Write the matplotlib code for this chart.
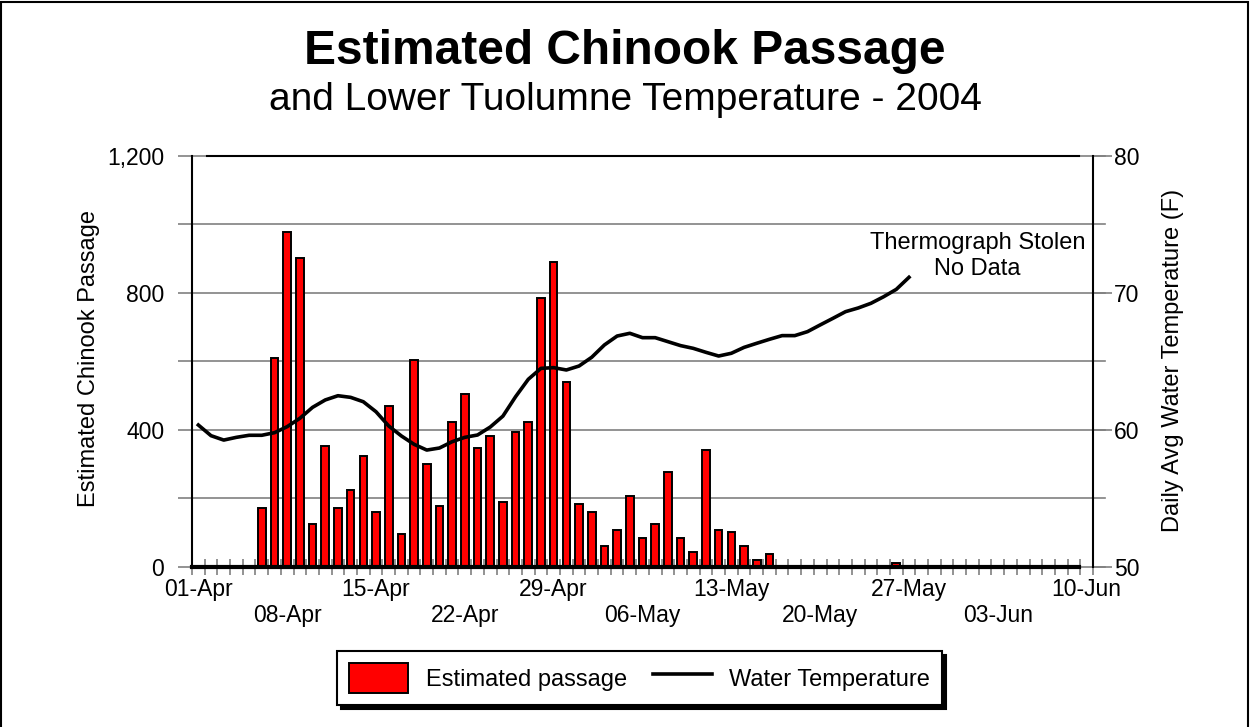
"""Passage estimee de Chinook et temperature du Tuolumne inferieur - 2004."""
import numpy as np
import matplotlib
matplotlib.use("Agg")
import matplotlib.pyplot as plt
from matplotlib.patches import Rectangle

ROUGE, GRIS, NOIR = "#ff0000", "#808080", "#000000"

plt.rcParams.update({
    "font.family": ["Liberation Sans", "DejaVu Sans"],
    "font.size": 16.5,
})

# une categorie par jour, 01-Apr .. 10-Jun (71 jours)
n_jours = 71
etiquettes = ["01-Apr", "08-Apr", "15-Apr", "22-Apr", "29-Apr", "06-May",
              "13-May", "20-May", "27-May", "03-Jun", "10-Jun"]

# passage estime (poissons/jour), 01-Apr .. 09-Jun
passage = [0, 0, 0, 0, 0,
           172, 611, 979, 903, 126, 354, 172, 225, 324, 161,
           470, 96, 605, 301, 178, 424, 506, 348, 383, 190,
           395, 424, 786, 891, 541, 184, 161, 61, 108, 207,
           85, 126, 278, 85, 44, 342, 108, 102, 61, 20,
           38, 0, 0, 0, 0, 0, 0, 0, 0, 0,
           12, 0, 0, 0, 0, 0, 0, 0, 0, 0,
           0, 0, 0, 0, 0]

# temperature moyenne journaliere (F), 01-Apr .. 27-May (thermographe vole ensuite)
temperature = [60.35, 59.57, 59.25, 59.45, 59.6, 59.6, 59.79, 60.23, 60.84, 61.64,
               62.18, 62.49, 62.37, 62.05, 61.32, 60.28, 59.55, 58.94, 58.52, 58.67,
               59.13, 59.45, 59.62, 60.2, 61.0, 62.42, 63.69, 64.49, 64.54, 64.37,
               64.66, 65.3, 66.2, 66.85, 67.05, 66.73, 66.73, 66.44, 66.15, 65.95,
               65.66, 65.39, 65.59, 66.02, 66.32, 66.61, 66.88, 66.88, 67.17, 67.66,
               68.14, 68.63, 68.9, 69.24, 69.72, 70.26, 71.14]

fig = plt.figure(figsize=(12.5, 7.27), dpi=100)
ax = fig.add_axes([0.1536, 0.2205, 0.7208, 0.5649])

# grille (deborde un peu a droite, comme dans Excel)
for v in range(0, 1201, 200):
    ax.axhline(v, xmin=0, xmax=1.0135, color=GRIS, lw=1.2, zorder=1, clip_on=False)

x = np.arange(len(passage))
barres = ax.bar(x, passage, width=0.6, color=ROUGE, edgecolor=NOIR, lw=1.4,
                zorder=2, label="Estimated passage")
ax.set_xlim(-0.5, n_jours - 0.5)
ax.set_ylim(0, 1200)

ax.set_yticks([0, 400, 800, 1200], ["0", "400", "800", "1,200"])
ax.set_yticks([200, 600, 1000], minor=True)
ax.tick_params(axis="y", which="both", length=10, width=1.2, color=GRIS, pad=10)

pos = np.arange(0, n_jours, 7)
ax.set_xticks(pos, [e if i % 2 == 0 else "\n" + e for i, e in enumerate(etiquettes)])
ax.set_xticks(np.arange(-0.5, n_jours, 1), minor=True)
ax.tick_params(axis="x", which="major", length=0, pad=8)
ax.tick_params(axis="x", which="minor", direction="inout", length=11, width=1.2, color=GRIS)

ax.spines["right"].set_visible(False)
ax.spines["left"].set_linewidth(1.5)
ax.spines["top"].set_linewidth(1.5)
ax.spines["top"].set_bounds(0.7, 69.4)
ax.spines["bottom"].set_linewidth(3)
ax.spines["bottom"].set_bounds(-0.5, 69.4)

ax.set_ylabel("Estimated Chinook Passage", fontsize=17)
ax.yaxis.set_label_coords(-0.102, 0.506)

ax.text(61.4, 908, "Thermograph Stolen\nNo Data", ha="center", va="center",
        fontsize=17, multialignment="center")

ax2 = ax.twinx()
ligne, = ax2.plot(np.arange(len(temperature)), temperature, color=NOIR, lw=2.6,
                  solid_joinstyle="round", label="Water Temperature")
ax2.set_ylim(50, 80)
ax2.set_yticks([50, 60, 70, 80])
ax2.set_yticks([55, 65, 75], minor=True)
ax2.tick_params(axis="y", which="major", length=14, width=1.2, color=GRIS, pad=1)
ax2.tick_params(axis="y", which="minor", length=0)
for c in ("left", "top", "bottom"):
    ax2.spines[c].set_visible(False)
ax2.spines["right"].set_linewidth(1.5)
ax2.set_ylabel("Daily Avg Water Temperature (F)", fontsize=17)
ax2.yaxis.set_label_coords(1.077, 0.502)

fig.text(0.5, 1 - 64 / 727, "Estimated Chinook Passage", ha="center", va="baseline",
         fontsize=34.5, fontweight="bold")
fig.text(0.5, 1 - 110 / 727, "and Lower Tuolumne Temperature - 2004", ha="center",
         va="baseline", fontsize=28)

leg = fig.legend([barres, ligne], ["Estimated passage", "Water Temperature"],
                 loc="center", bbox_to_anchor=(0.5116, 0.0674), ncol=2,
                 frameon=True, fancybox=False, edgecolor=NOIR, framealpha=1,
                 shadow={"ox": 3, "oy": -3, "facecolor": NOIR, "edgecolor": NOIR, "alpha": 1},
                 handlelength=2.5, handleheight=1.6, handletextpad=0.75,
                 columnspacing=1.1, borderpad=0.5, fontsize=17)
leg.get_frame().set_linewidth(1.5)

fig.add_artist(Rectangle((0.0012, -0.01), 0.9968, 1.0075, transform=fig.transFigure,
                         fill=False, edgecolor=NOIR, lw=1.5))

fig.savefig("out.png", dpi=100)
plt.close(fig)
